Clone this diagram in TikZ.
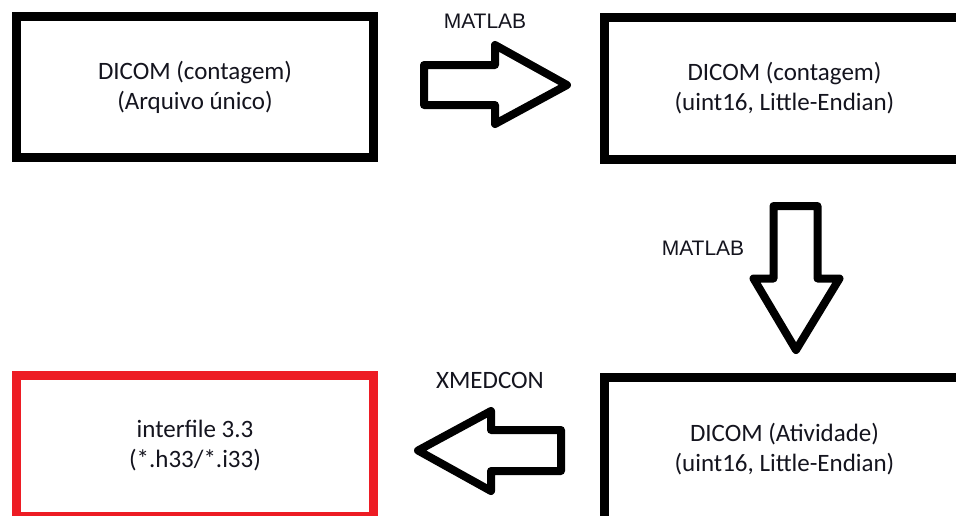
\documentclass[tikz,border=0pt]{standalone}
\usepackage{fontspec}
\setmainfont{Carlito}
\newfontfamily\labelfont{Liberation Sans}
\definecolor{paintred}{RGB}{237,28,36}
\definecolor{inkdark}{RGB}{20,20,30}
\begin{document}
\begin{tikzpicture}[x=1pt,y=-1pt,
  filebox/.style={draw=black, line width=9pt, fill=white, align=center,
    text=inkdark, font=\fontsize{25}{30}\selectfont, inner sep=0pt},
  blockarrow/.style={draw=black, line width=8pt, line join=round, fill=white},
  toollabel/.style={text=inkdark, font=\labelfont\fontsize{21}{25}\selectfont, inner sep=0pt},
  toollabelc/.style={text=inkdark, font=\fontsize{25}{30}\selectfont, inner sep=0pt}]
  \clip (0,0) rectangle (956,515);
  \fill[white] (0,0) rectangle (956,515);

  % file boxes
  \node[filebox, minimum width=357pt, minimum height=141pt] (src) at (195,87)
    {DICOM (contagem)\\(Arquivo único)};
  \node[filebox, minimum width=360pt, minimum height=142pt] (cnt) at (784.5,88.5)
    {DICOM (contagem)\\(uint16, Little-Endian)};
  \node[filebox, minimum width=360pt, minimum height=143pt] (act) at (784.5,449)
    {DICOM (Atividade)\\(uint16, Little-Endian)};
  \node[filebox, draw=paintred, minimum width=357pt, minimum height=141pt] (itf) at (195,446)
    {interfile 3.3\\(*.h33/*.i33)};

  % conversion arrows
  \draw[blockarrow] (424,65) -- (495,65) -- (495,45) -- (567,85) -- (495,124)
    -- (495,105) -- (424,105) -- cycle;
  \draw[blockarrow] (773.5,206) -- (817.5,206) -- (817.5,278.5) -- (839.5,278.5)
    -- (796,350) -- (753.5,278.5) -- (773.5,278.5) -- cycle;
  \draw[blockarrow] (561,430) -- (491,430) -- (491,411) -- (418,450.5) -- (491,491)
    -- (491,471) -- (561,471) -- cycle;

  % tool labels
  \node[toollabel] (m1) at (485,21.5) {MATLAB};
  \node[toollabel] (m2) at (703,248.5) {MATLAB};
  \node[toollabelc] (xm) at (490,380.5) {XMEDCON};
\end{tikzpicture}
\end{document}
